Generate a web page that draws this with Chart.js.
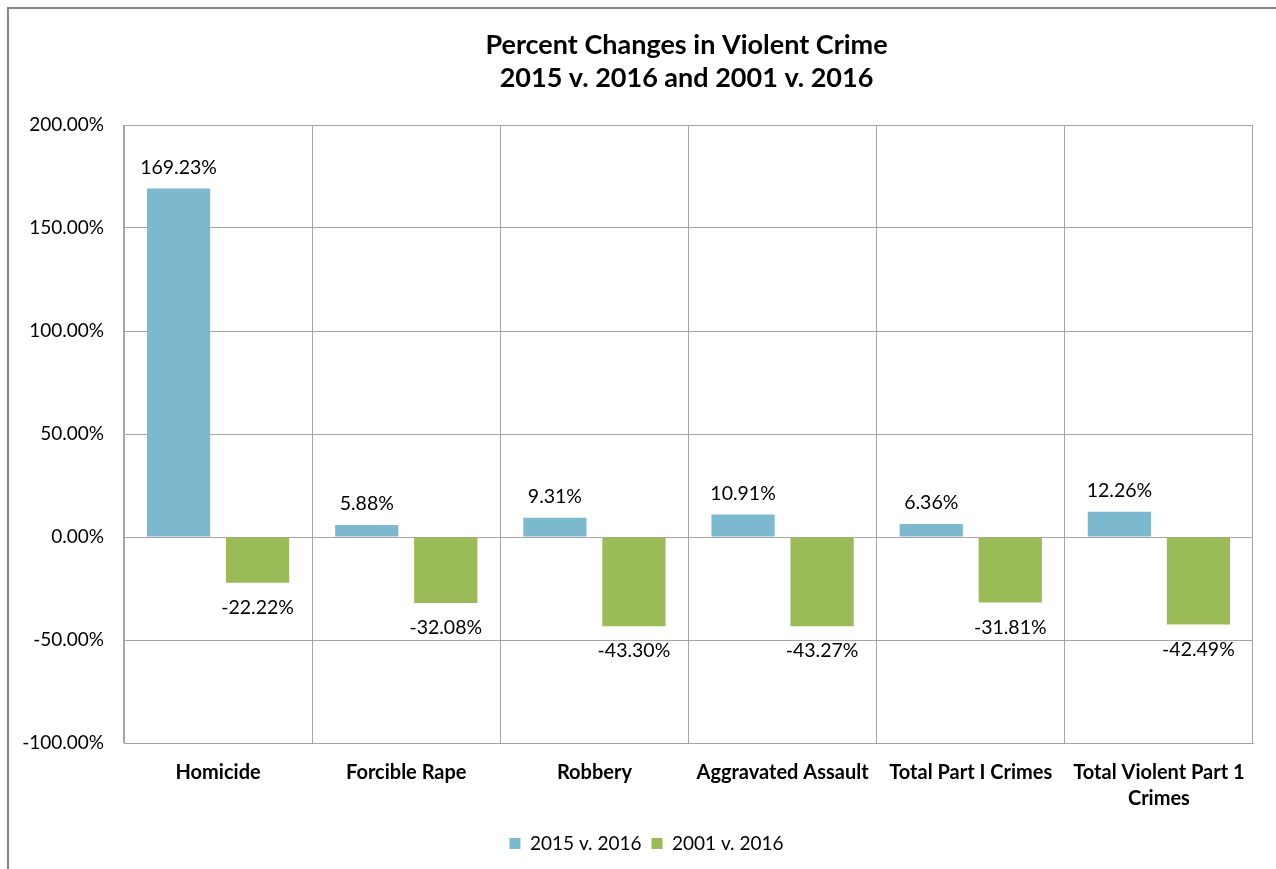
<!DOCTYPE html>
<html>
<head>
<meta charset="utf-8">
<script src="https://cdn.jsdelivr.net/npm/chart.js@4.4.1/dist/chart.umd.min.js"></script>
<style>
  html, body { margin: 0; padding: 0; background: #fff; }
  #wrap { width: 1276px; height: 869px; }
</style>
</head>
<body>
<div id="wrap"><canvas id="myChart" width="1276" height="869"></canvas></div>
<script>

const categories = [
    'Homicide',
    'Forcible Rape',
    'Robbery',
    'Aggravated Assault',
    'Total Part I Crimes',
    ['Total Violent Part 1', 'Crimes']
];
const change2015 = [169.23, 5.88, 9.31, 10.91, 6.36, 12.26];
const change2001 = [-22.22, -32.08, -43.30, -43.27, -31.81, -42.49];
const seriesNames = ['2015 v. 2016', '2001 v. 2016'];
const titleLines = ['Percent Changes in Violent Crime', '2015 v. 2016 and 2001 v. 2016'];

const FONT = 'Lato, "Open Sans", sans-serif';
const GRID = '#a6a6a6';

const pct = v => v.toFixed(2) + '%';

// white background plus the grey frame on the left and top
const framePlugin = {
    id: 'frame',
    beforeDraw(chart) {
        const c = chart.ctx;
        c.save();
        c.fillStyle = '#fff';
        c.fillRect(0, 0, chart.width, chart.height);
        c.strokeStyle = '#868686';
        c.lineWidth = 2;
        c.beginPath();
        c.moveTo(8, chart.height);
        c.lineTo(8, 8);
        c.lineTo(chart.width, 8);
        c.stroke();
        c.restore();
    }
};

// title centred over the plot area
const titlePlugin = {
    id: 'plotTitle',
    afterDraw(chart) {
        const c = chart.ctx;
        const a = chart.chartArea;
        const cx = (a.left + a.right) / 2;
        c.save();
        c.fillStyle = '#000';
        c.font = 'bold 27px ' + FONT;
        c.textAlign = 'center';
        c.textBaseline = 'middle';
        titleLines.forEach((t, i) => c.fillText(t, cx - 2, 45 + i * 33));
        c.restore();
    }
};

// nudge the legend a little to the right
const legendShift = {
    id: 'legendShift',
    afterLayout(chart) {
        if (chart.legend) {
            chart.legend.left += 15;
            chart.legend.right += 15;
        }
    }
};

// value labels above positive bars and below negative ones
const valueLabels = {
    id: 'valueLabels',
    afterDatasetsDraw(chart) {
        const c = chart.ctx;
        c.save();
        c.fillStyle = '#000';
        c.font = '19.5px ' + FONT;
        c.textAlign = 'center';
        c.textBaseline = 'middle';
        chart.data.datasets.forEach((ds, i) => {
            chart.getDatasetMeta(i).data.forEach((bar, j) => {
                const v = ds.data[j];
                const y = v >= 0 ? bar.y - 21 : bar.y + 25;
                c.fillText(pct(v), bar.x, y);
            });
        });
        c.restore();
    }
};

const data = {
    labels: categories,
    datasets: [
        {
            label: seriesNames[0],
            data: change2015,
            backgroundColor: '#7cb9cf',
            categoryPercentage: 0.84,
            barPercentage: 0.8
        },
        {
            label: seriesNames[1],
            data: change2001,
            backgroundColor: '#9bbb59',
            categoryPercentage: 0.84,
            barPercentage: 0.8
        }
    ]
};

const config = {
    type: 'bar',
    data: data,
    plugins: [framePlugin, titlePlugin, legendShift, valueLabels],
    options: {
        responsive: false,
        animation: false,
        layout: {
            padding: { left: 10, right: 23, top: 125, bottom: 6 }
        },
        plugins: {
            title: { display: false },
            tooltip: { enabled: false },
            legend: {
                display: true,
                position: 'bottom',
                labels: {
                    color: '#000',
                    font: { family: FONT, size: 19 },
                    boxWidth: 11,
                    boxHeight: 11,
                    padding: 10
                }
            }
        },
        scales: {
            x: {
                grid: { color: GRID, drawTicks: false, offset: true },
                border: { color: GRID },
                ticks: {
                    color: '#000',
                    padding: 17,
                    maxRotation: 0,
                    font: { family: FONT, size: 20, weight: 'bold', lineHeight: 1.3 }
                },
                afterFit(scale) { scale.height = 81; }
            },
            y: {
                min: -100,
                max: 200,
                grid: { color: GRID, drawTicks: false },
                border: { color: GRID },
                ticks: {
                    stepSize: 50,
                    color: '#000',
                    padding: 20,
                    font: { family: FONT, size: 19 },
                    callback: v => pct(v)
                },
                afterFit(scale) { scale.width = 114; }
            }
        }
    }
};

const ctx = document.getElementById('myChart');
let myChart = new Chart(ctx, config);
</script>
</body>
</html>
